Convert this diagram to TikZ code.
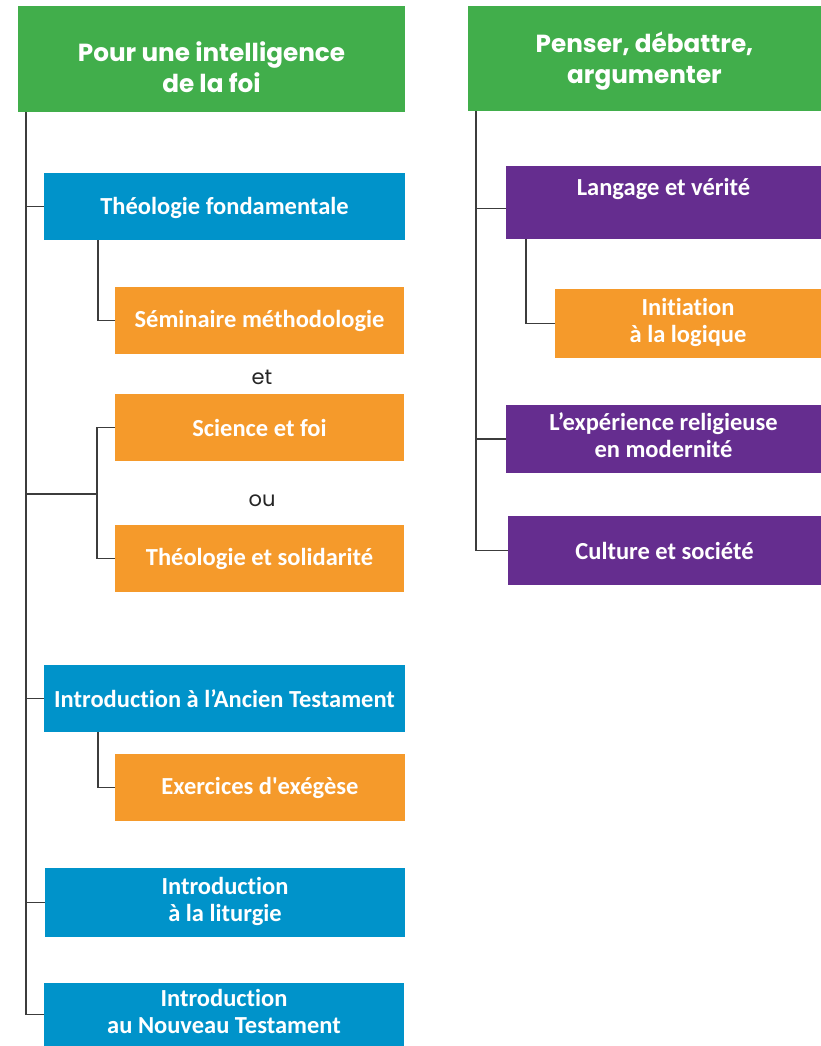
\documentclass[tikz,border=0pt]{standalone}
\usepackage{fontspec}
\setmainfont{Carlito}[Ligatures={TeXOff,CommonOff}]
\newfontfamily\titlefont{Poppins}
\definecolor{cgreen}{HTML}{41AE4B}
\definecolor{cblue}{HTML}{0093CA}
\definecolor{corange}{HTML}{F59A2B}
\definecolor{cpurple}{HTML}{652D8F}
\definecolor{cline}{HTML}{3C3C3C}
\newcommand{\twol}[2]{\begin{tabular}{@{}c@{}}#1\\#2\end{tabular}}
\newcommand{\shiftbox}[2]{\raisebox{#1}[\height][\depth]{#2}}
\tikzset{
  boxbase/.style={rectangle, inner sep=0pt, text=white, align=center},
  titlebox/.style={boxbase, fill=cgreen, font=\titlefont\bfseries\fontsize{24.7}{31}\selectfont},
  lbox/.style={boxbase, font=\bfseries\fontsize{24.5}{27}\selectfont},
  bluebox/.style={lbox, fill=cblue},
  orangebox/.style={lbox, fill=corange},
  purplebox/.style={lbox, fill=cpurple},
  conj/.style={inner sep=0pt, text=black!85, font=\titlefont\fontsize{21}{25}\selectfont},
  conn/.style={draw=cline, line width=1.5pt}
}
\begin{document}
\begin{tikzpicture}[x=1pt,y=-1pt]
\useasboundingbox (0,0) rectangle (821,1046);
% left column
\node[titlebox, minimum width=387, minimum height=106] (t1) at (211.5,59)
  {\shiftbox{-12pt}{\twol{Pour une intelligence}{de la foi}}};
\node[bluebox, minimum width=361, minimum height=67] (tf) at (224.5,206.5) {\shiftbox{-1.5pt}{Théologie fondamentale}};
\node[orangebox, minimum width=289, minimum height=67] (sem) at (259.5,320.5) {Séminaire méthodologie};
\node[conj] (et) at (262,377) {et};
\node[orangebox, minimum width=289, minimum height=67] (sci) at (259.5,427.5) {Science et foi};
\node[conj] (ou) at (262,501) {ou};
\node[orangebox, minimum width=289, minimum height=67] (sol) at (259.5,558.5) {Théologie et solidarité};
\node[bluebox, minimum width=361, minimum height=67] (at) at (224.5,698.5) {Introduction à l’Ancien Testament};
\node[orangebox, minimum width=290, minimum height=67] (exe) at (260,787.5) {Exercices d'exégèse};
\node[bluebox, minimum width=360, minimum height=69] (lit) at (225,902.5) {\twol{Introduction}{à la liturgie}};
\node[bluebox, minimum width=360, minimum height=63] (nt) at (224,1014.5) {\twol{Introduction}{au Nouveau Testament}};
% right column
\node[titlebox, minimum width=353, minimum height=105] (t2) at (644.5,58.5)
  {\shiftbox{-3pt}{\twol{Penser, débattre,}{argumenter}}};
\node[purplebox, minimum width=315, minimum height=73] (lv) at (663.5,202.5) {\shiftbox{14pt}{Langage et vérité}};
\node[orangebox, minimum width=266, minimum height=69] (ini) at (688,323.5) {\twol{Initiation}{à la logique}};
\node[purplebox, minimum width=315, minimum height=68] (exp) at (663.5,439) {\twol{L’expérience religieuse}{en modernité}};
\node[purplebox, minimum width=313, minimum height=69] (cs) at (664.5,550.5) {Culture et société};
% connector coordinates
\coordinate (L) at (26,0);
\coordinate (S) at (98,0);
\coordinate (B) at (97,494);
\coordinate (R) at (476,0);
\coordinate (RS) at (526,0);
% left connectors
\draw[conn] (L |- t1.south) |- (nt.west);
\draw[conn] (L |- tf.west) -- (tf.west);
\draw[conn] (L |- at.west) -- (at.west);
\draw[conn] (L |- lit.west) -- (lit.west);
\draw[conn] (S |- tf.south) |- (sem.west);
\draw[conn] (sci.west) -| (B) |- (sol.west);
\draw[conn] (L |- B) -- (B);
\draw[conn] (S |- at.south) |- (exe.west);
% right connectors
\draw[conn] (R |- t2.south) |- (cs.west);
\draw[conn] (R |- lv.west) ++(0,6) -- ([yshift=-6pt]lv.west);
\draw[conn] (R |- exp.west) -- (exp.west);
\draw[conn] (RS |- lv.south) |- (ini.west);
\end{tikzpicture}
\end{document}
